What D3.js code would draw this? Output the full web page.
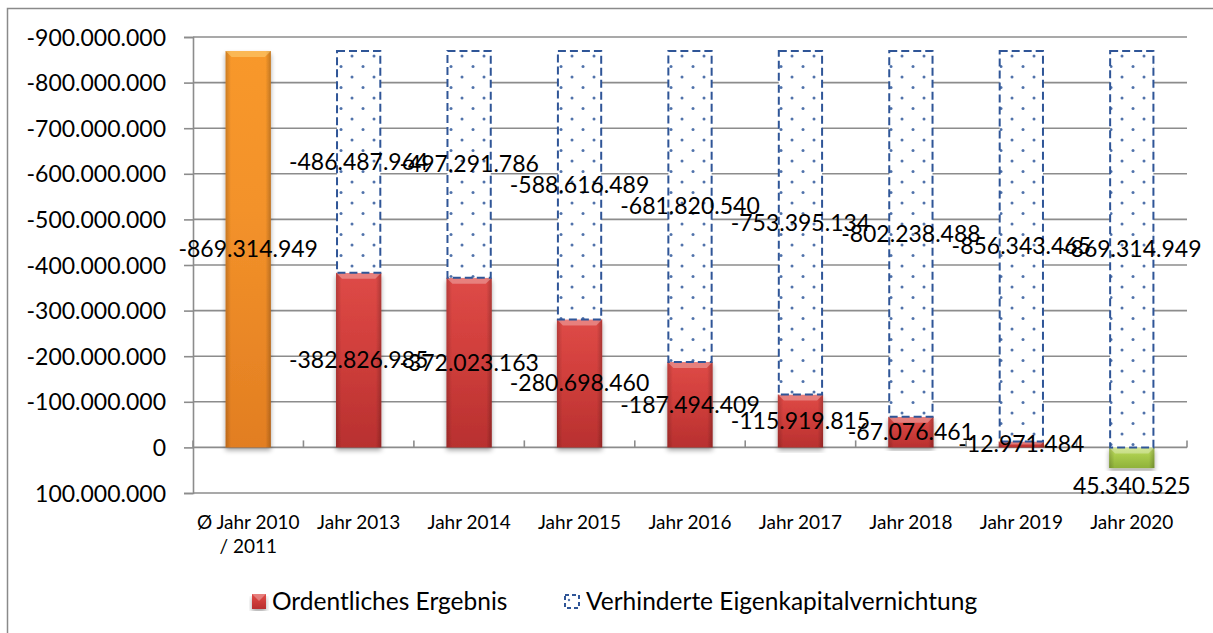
<!DOCTYPE html>
<html>
<head>
<meta charset="utf-8">
<script src="https://cdn.jsdelivr.net/npm/d3@7"></script>
<style>
  body { margin: 0; background: #fff; }
  svg { display: block; font-family: Lato, "Open Sans", sans-serif; }
</style>
</head>
<body>
<svg width="1213" height="633"></svg>
<script>
var categories = ["Ø Jahr 2010 / 2011", "Jahr 2013", "Jahr 2014", "Jahr 2015", "Jahr 2016",
                  "Jahr 2017", "Jahr 2018", "Jahr 2019", "Jahr 2020"];
var ergebnis = [-869314949, -382826985, -372023163, -280698460, -187494409,
                -115919815, -67076461, -12971484, 45340525];
var verhindert = [0, -486487964, -497291786, -588616489, -681820540,
                  -753395134, -802238488, -856343465, -869314949];
var yTicks = [-900e6, -800e6, -700e6, -600e6, -500e6, -400e6, -300e6, -200e6, -100e6, 0, 100e6];
var seriesNames = ["Ordentliches Ergebnis", "Verhinderte Eigenkapitalvernichtung"];

var svg = d3.select("svg"),
    plotLeft = 193, plotRight = 1187, plotTop = 37, plotBottom = 493;

var de = d3.formatLocale({decimal: ",", thousands: ".", grouping: [3], currency: ["", " €"], minus: "-"});
var fmt = de.format(",d");

var x = d3.scaleBand().domain(categories).range([plotLeft, plotRight]).paddingInner(0.59).paddingOuter(0.295);
var y = d3.scaleLinear().domain([-900e6, 100e6]).range([plotTop, plotBottom]);

var table = categories.map(function(c, i) {
  return {cat: c, erg: ergebnis[i], ver: verhindert[i]};
});
var stacked = d3.stack().keys(["erg", "ver"]).offset(d3.stackOffsetDiverging)(table);

var defs = svg.append("defs");

function barGradient(id, light, mid, dark) {
  var g = defs.append("linearGradient").attr("id", id).attr("x1", 0).attr("x2", 0).attr("y1", 0).attr("y2", 1);
  g.append("stop").attr("offset", "0%").attr("stop-color", light);
  g.append("stop").attr("offset", "40%").attr("stop-color", mid);
  g.append("stop").attr("offset", "100%").attr("stop-color", dark);
  var s = defs.append("linearGradient").attr("id", id + "-side");
  s.append("stop").attr("offset", "0%").attr("stop-color", "#000").attr("stop-opacity", 0.18);
  s.append("stop").attr("offset", "12%").attr("stop-color", "#000").attr("stop-opacity", 0);
  s.append("stop").attr("offset", "88%").attr("stop-color", "#000").attr("stop-opacity", 0);
  s.append("stop").attr("offset", "100%").attr("stop-color", "#000").attr("stop-opacity", 0.22);
}
barGradient("orange", "#f8982a", "#f3922a", "#e27e22");
barGradient("red", "#de4a47", "#d2403d", "#b8302f");
barGradient("green", "#c2dd6a", "#a9cb4c", "#8fb23a");

var pat = defs.append("pattern").attr("id", "dots").attr("patternUnits", "userSpaceOnUse")
    .attr("width", 22).attr("height", 21).attr("x", x(categories[1]) + 5).attr("y", plotTop + 19);
pat.append("rect").attr("width", 22).attr("height", 21).attr("fill", "#fff");
[[11, 0], [0, 10.5], [22, 10.5], [11, 21]].forEach(function(p) {
  pat.append("circle").attr("cx", p[0]).attr("cy", p[1]).attr("r", 1.5).attr("fill", "#4f71aa");
});

var shadow = defs.append("filter").attr("id", "shadow").attr("x", "-20%").attr("y", "-5%").attr("width", "140%").attr("height", "115%");
shadow.append("feGaussianBlur").attr("in", "SourceAlpha").attr("stdDeviation", 2.5);
shadow.append("feOffset").attr("dx", 0).attr("dy", 3).attr("result", "b");
shadow.append("feComponentTransfer").append("feFuncA").attr("type", "linear").attr("slope", 0.35);
var merge = shadow.append("feMerge");
merge.append("feMergeNode");
merge.append("feMergeNode").attr("in", "SourceGraphic");

// outer frame
svg.append("rect").attr("x", 7.5).attr("y", 8.5).attr("width", 1230).attr("height", 700)
    .attr("fill", "none").attr("stroke", "#8a8a8a").attr("stroke-width", 1.5);

// gridlines
svg.append("g").selectAll("line").data(yTicks).join("line")
    .attr("x1", plotLeft).attr("x2", plotRight)
    .attr("y1", function(d) { return y(d); }).attr("y2", function(d) { return y(d); })
    .attr("stroke", "#8c8c8c").attr("stroke-width", 1.6);

// y axis
var yAxis = svg.append("g").attr("transform", "translate(" + plotLeft + ",0)")
    .call(d3.axisLeft(y).tickValues(yTicks).tickFormat(fmt).tickSize(9).tickPadding(18));
yAxis.select(".domain").attr("stroke", "#8c8c8c").attr("stroke-width", 1.6);
yAxis.selectAll(".tick line").attr("stroke", "#8c8c8c").attr("stroke-width", 1.6);
yAxis.selectAll(".tick text").attr("font-size", 23).attr("fill", "#000").attr("font-family", "Lato").attr("dy", "0.35em");

// category ticks on the zero line
var bounds = d3.range(categories.length + 1).map(function(i) { return plotLeft + i * x.step(); });
svg.append("g").selectAll("line").data(bounds).join("line")
    .attr("x1", function(d) { return d; }).attr("x2", function(d) { return d; })
    .attr("y1", y(0)).attr("y2", y(0) - 7)
    .attr("stroke", "#8c8c8c").attr("stroke-width", 1.6);

function gradId(d, i) {
  if (i === 0) return "orange";
  if (d.data.erg > 0) return "green";
  return "red";
}

// Ordentliches Ergebnis bars
var ergBars = svg.append("g").selectAll("g").data(stacked[0]).join("g")
    .attr("filter", "url(#shadow)");
ergBars.each(function(d, i) {
  var g = d3.select(this),
      bx = x(d.data.cat), bw = x.bandwidth(),
      y0 = y(Math.min(d[0], d[1])), y1 = y(Math.max(d[0], d[1])),
      h = y1 - y0;
  g.append("rect").attr("x", bx).attr("y", y0).attr("width", bw).attr("height", h).attr("fill", "url(#" + gradId(d, i) + ")");
  g.append("rect").attr("x", bx).attr("y", y0).attr("width", bw).attr("height", h).attr("fill", "url(#" + gradId(d, i) + "-side)");
  var bev = Math.min(6, h / 2);
  g.append("path")
      .attr("d", "M" + bx + "," + y0 + "H" + (bx + bw) + "L" + (bx + bw - bev) + "," + (y0 + bev) + "H" + (bx + bev) + "Z")
      .attr("fill", i === 0 ? "#ffe08a" : "#fff").attr("opacity", i === 0 ? 0.45 : 0.3);
});

// Verhinderte Eigenkapitalvernichtung bars
svg.append("g").selectAll("rect").data(stacked[1].filter(function(d) { return d[1] !== d[0]; })).join("rect")
    .attr("x", function(d) { return x(d.data.cat) + 1; })
    .attr("y", function(d) { return y(Math.min(d[0], d[1])); })
    .attr("width", x.bandwidth() - 2)
    .attr("height", function(d) { return Math.abs(y(d[0]) - y(d[1])); })
    .attr("fill", "url(#dots)")
    .attr("stroke", "#2f5597").attr("stroke-width", 2).attr("stroke-dasharray", "8,4");

// data labels
var labels = svg.append("g").attr("font-size", 23).attr("fill", "#000").attr("text-anchor", "middle");
stacked.forEach(function(s, k) {
  labels.selectAll(null).data(s.filter(function(d) { return d[1] !== d[0]; })).join("text")
      .attr("x", function(d) { return x(d.data.cat) + x.bandwidth() / 2; })
      .attr("y", function(d) {
        var v = k === 0 ? d.data.erg : d.data.ver;
        if (v > 0) return y(Math.max(d[0], d[1])) + 18;
        return y((d[0] + d[1]) / 2);
      })
      .attr("dy", "0.35em")
      .text(function(d) { return fmt(k === 0 ? d.data.erg : d.data.ver); });
});

// category labels
var xl = svg.append("g").attr("font-size", 19).attr("fill", "#000").attr("text-anchor", "middle");
categories.forEach(function(c) {
  var cx = x(c) + x.bandwidth() / 2;
  var parts = c.indexOf("/") > 0 ? [c.slice(0, c.indexOf("/") - 1), c.slice(c.indexOf("/"))] : [c];
  parts.forEach(function(p, j) {
    xl.append("text").attr("x", cx).attr("y", 529 + j * 24).text(p);
  });
});

// legend
var lg = svg.append("g").attr("font-size", 24.5);
var r = lg.append("g").attr("filter", "url(#shadow)");
r.append("rect").attr("x", 252).attr("y", 594).attr("width", 14).attr("height", 15).attr("fill", "url(#red)");
r.append("path").attr("d", "M252,594H266L259,601Z").attr("fill", "#fff").attr("opacity", 0.3);
lg.append("text").attr("x", 272).attr("y", 610).text(seriesNames[0]);
lg.append("rect").attr("x", 565).attr("y", 595).attr("width", 14).attr("height", 13)
    .attr("fill", "#fff").attr("stroke", "#2f5597").attr("stroke-width", 2).attr("stroke-dasharray", "4,3");
lg.append("circle").attr("cx", 569).attr("cy", 600).attr("r", 1.2).attr("fill", "#4f71aa");
lg.append("text").attr("x", 586).attr("y", 610).text(seriesNames[1]);
</script>
</body>
</html>
